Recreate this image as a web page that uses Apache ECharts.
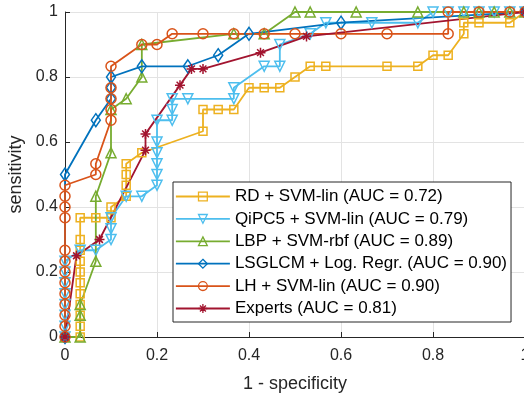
<!DOCTYPE html>
<html lang="en">
<head>
    <meta charset="UTF-8">
    <title>ROC</title>
    <script src="https://cdn.jsdelivr.net/npm/echarts@6/dist/echarts.min.js"></script>
    <style>
        html, body { margin: 0; padding: 0; background: #fff; }
        #chart { width: 524px; height: 396px; }
    </style>
</head>
<body>
<div id="chart"></div>
<script>
    // ROC points (1 - specificity, sensitivity)
    const names = [
        'RD + SVM-lin (AUC = 0.72)',
        'QiPC5 + SVM-lin (AUC = 0.79)',
        'LBP + SVM-rbf (AUC = 0.89)',
        'LSGLCM + Log. Regr. (AUC = 0.90)',
        'LH + SVM-lin (AUC = 0.90)',
        'Experts (AUC = 0.81)'
    ];
    const colors = ['#EDB120', '#4DBEEE', '#77AC30', '#0072BD', '#D95319', '#A2142F'];

    const rdX = [0, 0.033, 0.033, 0.033, 0.033, 0.033, 0.033, 0.033, 0.033, 0.033, 0.033, 0.033,
        0.067, 0.1, 0.1, 0.133, 0.133, 0.133, 0.133, 0.167, 0.3, 0.3, 0.333, 0.367, 0.4, 0.433, 0.467,
        0.5, 0.533, 0.567, 0.7, 0.767, 0.8, 0.833, 0.867, 0.867, 0.9, 0.967, 1];
    const rdY = [0, 0, 0.033, 0.067, 0.1, 0.133, 0.167, 0.2, 0.233, 0.267, 0.3, 0.367,
        0.367, 0.367, 0.4, 0.433, 0.467, 0.5, 0.533, 0.567, 0.633, 0.7, 0.7, 0.7, 0.767, 0.767, 0.767,
        0.8, 0.833, 0.833, 0.833, 0.833, 0.867, 0.867, 0.933, 0.967, 0.967, 0.967, 1];

    const qiX = [0, 0, 0, 0, 0, 0, 0, 0, 0.033, 0.067, 0.1, 0.1, 0.1, 0.133, 0.167, 0.2, 0.2, 0.2, 0.2,
        0.2, 0.2, 0.233, 0.233, 0.233, 0.267, 0.367, 0.367, 0.433, 0.467, 0.467, 0.533, 0.567, 0.667,
        0.767, 0.8, 0.833, 0.867, 0.9, 0.933, 0.967, 1];
    const qiY = [0, 0.033, 0.067, 0.1, 0.133, 0.167, 0.2, 0.233, 0.267, 0.267, 0.3, 0.333, 0.367, 0.433,
        0.433, 0.467, 0.5, 0.533, 0.567, 0.6, 0.667, 0.667, 0.7, 0.733, 0.733, 0.733, 0.767, 0.833,
        0.833, 0.9, 0.933, 0.967, 0.967, 0.967, 1, 1, 1, 1, 1, 1, 1];

    const lbpX = [0, 0.033, 0.033, 0.033, 0.067, 0.067, 0.1, 0.1, 0.133, 0.167, 0.167, 0.367, 0.433,
        0.5, 0.533, 0.633, 0.767, 0.867, 0.9, 0.933, 0.967, 1];
    const lbpY = [0, 0, 0.067, 0.1, 0.233, 0.433, 0.567, 0.7, 0.733, 0.8, 0.9, 0.933, 0.933,
        1, 1, 1, 1, 1, 1, 1, 1, 1];

    const lsX = [0, 0, 0.067, 0.1, 0.1, 0.1, 0.167, 0.267, 0.333, 0.4, 0.6, 1];
    const lsY = [0, 0.5, 0.667, 0.733, 0.767, 0.8, 0.833, 0.833, 0.867, 0.933, 0.967, 1];

    const lhX = [0, 0, 0, 0, 0, 0, 0, 0, 0, 0, 0, 0, 0, 0.067, 0.067, 0.1, 0.1, 0.1, 0.1, 0.1,
        0.167, 0.2, 0.233, 0.3, 0.367, 0.433, 0.5, 0.6, 0.7, 0.833, 0.833, 0.9, 0.967, 1];
    const lhY = [0, 0.033, 0.067, 0.1, 0.133, 0.167, 0.2, 0.233, 0.267, 0.367, 0.4, 0.433, 0.467,
        0.5, 0.533, 0.667, 0.7, 0.733, 0.767, 0.833, 0.9, 0.9, 0.933, 0.933, 0.933, 0.933, 0.933,
        0.933, 0.933, 0.933, 1, 1, 1, 1];

    const expX = [0, 0.025, 0.075, 0.175, 0.175, 0.25, 0.275, 0.3, 0.425, 0.525, 1];
    const expY = [0, 0.25, 0.3, 0.575, 0.625, 0.775, 0.825, 0.825, 0.875, 0.925, 1];

    const xTicks = [0, 0.2, 0.4, 0.6, 0.8, 1];
    const yTicks = [0, 0.2, 0.4, 0.6, 0.8, 1];

    const star = 'path://M5 0L5 10M0 5L10 5M1.6 1.6L8.4 8.4M1.6 8.4L8.4 1.6';
    const symbols = ['rect', 'triangle', 'triangle', 'diamond', 'circle', star];
    const rotates = [0, 180, 0, 0, 0, 0];
    const sizes = [8, 10, 10, [9, 13], 10, 10];
    const xs = [rdX, qiX, lbpX, lsX, lhX, expX];
    const ys = [rdY, qiY, lbpY, lsY, lhY, expY];

    const series = names.map(function (name, i) {
        return {
            name: name,
            type: 'line',
            data: xs[i].map(function (x, j) { return [x, ys[i][j]]; }),
            symbol: symbols[i],
            symbolSize: sizes[i],
            symbolRotate: rotates[i],
            showAllSymbol: true,
            clip: false,
            animation: false,
            lineStyle: {color: colors[i], width: 1.8},
            itemStyle: {color: 'transparent', borderColor: colors[i], borderWidth: 1.5}
        };
    });

    const axisText = {color: '#262626', fontFamily: 'Liberation Sans', fontSize: 16};

    const chart = echarts.init(document.getElementById('chart'));
    chart.setOption({
        backgroundColor: '#fff',
        animation: false,
        grid: {left: 65, top: 12, width: 460, height: 325, outerBoundsMode: 'none', containLabel: false},
        xAxis: {
            type: 'value', min: 0, max: 1, interval: 0.2,
            name: '1 - specificity', nameLocation: 'middle', nameGap: 38,
            nameTextStyle: {color: '#262626', fontFamily: 'Liberation Sans', fontSize: 18},
            axisLine: {lineStyle: {color: '#262626', width: 1}},
            axisTick: {inside: true, length: 5, lineStyle: {color: '#262626'}},
            axisLabel: Object.assign({margin: 11, formatter: function (v) { return xTicks.indexOf(v) >= 0 ? String(v) : ''; }}, axisText),
            splitLine: {show: true, lineStyle: {color: '#e3e3e3'}}
        },
        yAxis: {
            type: 'value', min: 0, max: 1, interval: 0.2,
            name: 'sensitivity', nameLocation: 'middle', nameGap: 37, nameRotate: 90,
            nameTextStyle: {color: '#262626', fontFamily: 'Liberation Sans', fontSize: 18},
            axisLine: {show: true, lineStyle: {color: '#262626', width: 1}},
            axisTick: {show: true, inside: true, length: 5, lineStyle: {color: '#262626'}},
            axisLabel: Object.assign({margin: 7, formatter: function (v) { return yTicks.indexOf(v) >= 0 ? String(v) : ''; }}, axisText),
            splitLine: {show: true, lineStyle: {color: '#e3e3e3'}}
        },
        legend: {
            orient: 'vertical',
            left: 173, top: 182,
            padding: [6, 4, 5, 2],
            itemWidth: 54, itemHeight: 11, itemGap: 5.4,
            backgroundColor: '#fff',
            borderColor: '#262626', borderWidth: 1, borderRadius: 0,
            lineStyle: {width: 1.8},
            itemStyle: {borderWidth: 1.3},
            textStyle: {color: '#000', fontFamily: 'Liberation Sans', fontSize: 17, lineHeight: 17, padding: [0, 0, 0, 0]},
            data: names
        },
        series: series
    });
</script>
</body>
</html>
